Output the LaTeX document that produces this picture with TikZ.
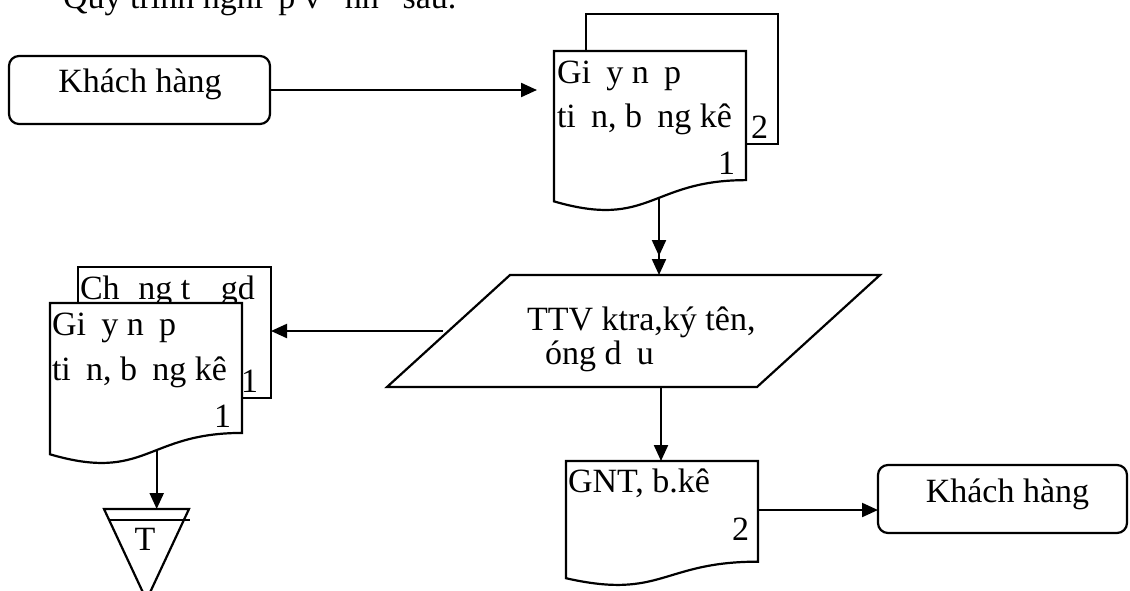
\documentclass[tikz,border=0pt]{standalone}
\usepackage{fontspec}
\setmainfont{Liberation Serif}
\usetikzlibrary{arrows.meta,calc}
\newcommand\mg{\hspace{0.45em}}
\newcommand\docshape[5]{%
  \draw[shapeline,fill=white] (#2,#3) -- (#2+#4,#3) -- (#2+#4,#3+0.802*#5)
    .. controls (#2+0.5*#4,#3+0.802*#5) and (#2+0.5*#4,#3+1.1075*#5) .. (#2,#3+0.934*#5) -- cycle;
  \node[minimum width=#4*0.5pt, minimum height=#5*0.5pt, anchor=north west] (#1) at (#2,#3) {};
}
\begin{document}
\begin{tikzpicture}[x=0.5pt,y=-0.5pt,
  every node/.style={font=\fontsize{17}{22}\selectfont, inner sep=0pt, outer sep=0pt},
  shapeline/.style={line width=1.1pt, line join=miter},
  tipA/.style={-{Triangle[length=8pt,width=7pt]}},
  arr/.style={line width=1.1pt, tipA},
  kbox/.style={draw, line width=1.1pt, rounded corners=5pt, minimum height=34pt},
  backdoc/.style={draw, line width=1.1pt, fill=white}]
\useasboundingbox (0,0) rectangle (1130,590);
\clip (0,0) rectangle (1130,590);

% title line (cut at top)
\node[anchor=base west] (title) at (63,8) {Quy trình nghi\mg p v\mg\ nh\mg\ sau.};

% left customer
\node[kbox, minimum width=130.5pt] (kh1) at (139.5,90) {};
\node[anchor=base] (kh1t) at (140,92) {Khách hàng};

% top documents
\node[backdoc, minimum width=96pt, minimum height=65pt] (d1b) at (682,79) {};
\node[anchor=base east] (d1bn) at (768,138) {2};
\docshape{d1}{554}{51}{192}{161}
\node[anchor=base west] (d1l1) at (557,83) {Gi\mg y n\mg p};
\node[anchor=base west] (d1l2) at (557,127) {ti\mg n, b\mg ng kê};
\node[anchor=base east] (d1n) at (735,174) {1};
\coordinate (d1s) at (659,197);

% parallelogram
\draw[shapeline] (510,275) -- (880,275) -- (757,387) -- (387,387) -- cycle;
\node[minimum width=185pt, minimum height=56pt] (ttv) at (633.5,331) {};
\node[anchor=base west] (ttv1) at (527,330) {TTV ktra,ký tên,};
\node[anchor=base west] (ttv2) at (545,364) {óng d\mg u};
\coordinate (pl) at (443,331);
\coordinate (ttvb) at (661,387);

% left documents
\node[backdoc, minimum width=96.5pt, minimum height=65.5pt] (d2b) at (174.5,332.5) {};
\node[anchor=base west] (d2bt) at (80,299) {Ch\hspace{0.55em}ng t\hspace{0.65em}\ gd};
\node[anchor=base east] (d2bn) at (258,392) {1};
\docshape{d2}{50}{303}{192}{162}
\node[anchor=base west] (d2l1) at (52,335) {Gi\mg y n\mg p};
\node[anchor=base west] (d2l2) at (52,380) {ti\mg n, b\mg ng kê};
\node[anchor=base east] (d2n) at (231,427) {1};
\coordinate (d2s) at (156.7,450);

% triangle T
\draw[shapeline] (104,509) -- (189,509) -- (146.5,600) -- cycle;
\draw[shapeline] (109,520) -- (190,520);
\coordinate (tritop) at (156.7,509);
\node[anchor=base] (triT) at (145,550) {T};

% GNT document
\docshape{gnt}{566}{461}{192}{125.5}
\node[anchor=base west] (gntl1) at (568,492) {GNT, b.kê};
\node[anchor=base east] (gntn) at (749,540) {2};
\coordinate (g2) at (758,510);

% right customer
\node[kbox, minimum width=124.5pt] (kh2) at (1002.5,499) {};
\node[anchor=base] (kh2t) at (1007.5,502) {Khách hàng};

% connectors
\draw[arr, shorten >=8.5pt] (kh1.east) -- (kh1.east -| d1.west);
\draw[line width=1.1pt, -{Triangle[length=8pt,width=7pt,sep=1.5pt]Triangle[length=8pt,width=7pt]}] (d1s) -- (d1s |- ttv.north);
\draw[arr] (pl) -- (pl -| d2b.east);
\draw[arr] (ttvb) -- (ttvb |- gnt.north);
\draw[arr] (d2s) -- (tritop);
\draw[arr] (g2) -- (g2 -| kh2.west);
\end{tikzpicture}
\end{document}
